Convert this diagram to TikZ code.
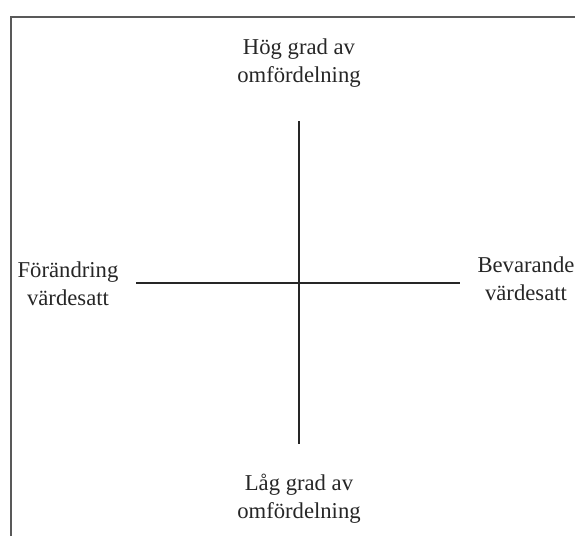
\documentclass[tikz,border=0pt]{standalone}
\usepackage{fontspec}
\setmainfont{Liberation Serif}
\begin{document}
\begin{tikzpicture}[x=0.75pt,y=-0.75pt,
  lbl/.style={align=center,inner sep=0pt,font=\fontsize{17pt}{21pt}\selectfont,text=black!85},
  axis/.style={line width=1.5pt,draw=black!85},
  frame/.style={line width=1.2pt,draw=black!65}]
\useasboundingbox (0,0) rectangle (575,536);
\draw[frame] (11,536) -- (11,17) -- (575,17);
\coordinate (vt) at (299,121);
\coordinate (vb) at (299,444);
\coordinate (hl) at (136,283);
\coordinate (hr) at (460,283);
\draw[axis] (vt) -- (vb);
\draw[axis] (hl) -- (hr);
\node[lbl] (top) at (299,63) {Hög grad av\\omfördelning};
\node[lbl] (bot) at (299,499) {Låg grad av\\omfördelning};
\node[lbl] (left) at (68,284) {Förändring\\värdesatt};
\node[lbl] (right) at (526,279) {Bevarande\\värdesatt};
\end{tikzpicture}
\end{document}
